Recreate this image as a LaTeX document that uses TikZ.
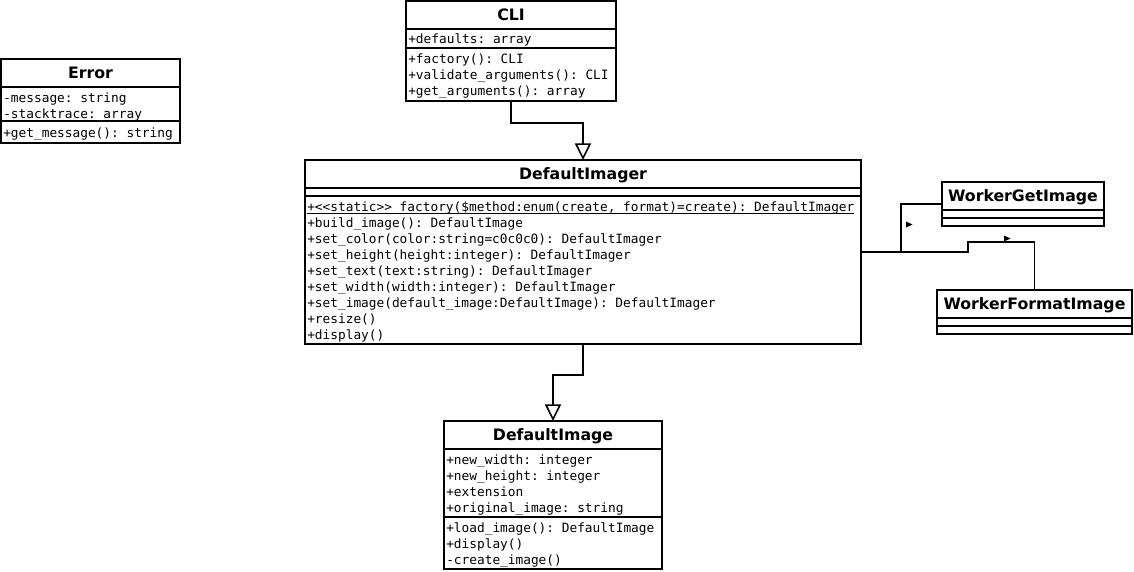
\documentclass[tikz,border=0pt]{standalone}
\usepackage{fontspec}
\setsansfont{DejaVu Sans}
\setmonofont{DejaVu Sans Mono}
\usetikzlibrary{arrows.meta,fit}
\tikzset{
  cls/.style={draw, line width=1.2pt, inner sep=0pt, outer sep=0pt, fill=white},
  ttl/.style={font=\sffamily\bfseries\fontsize{11.8pt}{14pt}\selectfont, inner sep=0pt, anchor=base},
  mem/.style={font=\ttfamily\fontsize{9.6pt}{12pt}\selectfont, inner sep=0pt, anchor=base west, yshift=-0.75pt},
  sepline/.style={line width=1.2pt},
  conn/.style={line width=1.2pt},
  inh/.style={conn, -{Triangle[fill=white, length=12.5pt, width=12pt]}},
  dirmark/.style={fill=black}
}
\begin{document}
\begin{tikzpicture}[x=0.75pt,y=-0.75pt]
\useasboundingbox (0,0) rectangle (1134,571);
\fill[white] (0,0) rectangle (1134,571);

% Error
\node[cls, fit={(1,59) (180,143)}] (error) {};
\draw[sepline] (1,87) -- (180,87);
\draw[sepline] (1,121) -- (180,121);
\node[ttl] (errorT) at (90.5,78) {Error};
\node[mem] (e1) at (3,101) {-message: string};
\node[mem] (e2) at (3,117) {-stacktrace: array};
\node[mem] (e3) at (3,136) {+get\_message(): string};

% CLI
\node[cls, fit={(406,1) (616,101)}] (cli) {};
\draw[sepline] (406,29) -- (616,29);
\draw[sepline] (406,48) -- (616,48);
\node[ttl] (cliT) at (511,20) {CLI};
\node[mem] (c1) at (408,42.5) {+defaults: array};
\node[mem] (c2) at (408,62) {+factory(): CLI};
\node[mem] (c3) at (408,78) {+validate\_arguments(): CLI};
\node[mem] (c4) at (408,94) {+get\_arguments(): array};

% DefaultImager
\node[cls, fit={(305,160) (861,344)}] (imager) {};
\draw[sepline] (305,188) -- (861,188);
\draw[sepline] (305,196) -- (861,196);
\node[ttl] (imagerT) at (583,179) {DefaultImager};
\node[mem] (m1) at (307,210) {\underline{\smash{+<<static>> factory(\$method:enum(create, format)=create): DefaultImager}}};
\node[mem] (m2) at (307,226) {+build\_image(): DefaultImage};
\node[mem] (m3) at (307,242) {+set\_color(color:string=c0c0c0): DefaultImager};
\node[mem] (m4) at (307,258) {+set\_height(height:integer): DefaultImager};
\node[mem] (m5) at (307,274) {+set\_text(text:string): DefaultImager};
\node[mem] (m6) at (307,290) {+set\_width(width:integer): DefaultImager};
\node[mem] (m7) at (307,306) {+set\_image(default\_image:DefaultImage): DefaultImager};
\node[mem] (m8) at (307,322) {+resize()};
\node[mem] (m9) at (307,338) {+display()};

% WorkerGetImage
\node[cls, fit={(942,182) (1104,226)}] (wgi) {};
\draw[sepline] (942,210) -- (1104,210);
\draw[sepline] (942,218) -- (1104,218);
\node[ttl] (wgiT) at (1023,201) {WorkerGetImage};

% WorkerFormatImage
\node[cls, fit={(937,290) (1132,334)}] (wfi) {};
\draw[sepline] (937,318) -- (1132,318);
\draw[sepline] (937,326) -- (1132,326);
\node[ttl] (wfiT) at (1034.5,309) {WorkerFormatImage};

% DefaultImage
\node[cls, fit={(444,421) (662,569)}] (image) {};
\draw[sepline] (444,449) -- (662,449);
\draw[sepline] (444,517) -- (662,517);
\node[ttl] (imageT) at (553,440) {DefaultImage};
\node[mem] (i1) at (446,463) {+new\_width: integer};
\node[mem] (i2) at (446,479) {+new\_height: integer};
\node[mem] (i3) at (446,495) {+extension};
\node[mem] (i4) at (446,511) {+original\_image: string};
\node[mem] (i5) at (446,531) {+load\_image(): DefaultImage};
\node[mem] (i6) at (446,547) {+display()};
\node[mem] (i7) at (446,563) {-create\_image()};

% connectors
\draw[inh] (cli.south) -- ++(0,22) -| (imager.north);
\draw[inh] (imager.south) -- ++(0,31) -| (image.north);
\draw[conn] (imager.east) -- ++(40,0) |- (wgi.west);
\draw[conn] (imager.east) -- ++(107,0) -- ++(0,-10) -| (wfi.north);

% direction marks
\fill[dirmark] (906,221.5) -- (912.5,224.5) -- (906,227.5) -- cycle;
\fill[dirmark] (1004,235.5) -- (1010.5,238.5) -- (1004,241.5) -- cycle;
\end{tikzpicture}
\end{document}
